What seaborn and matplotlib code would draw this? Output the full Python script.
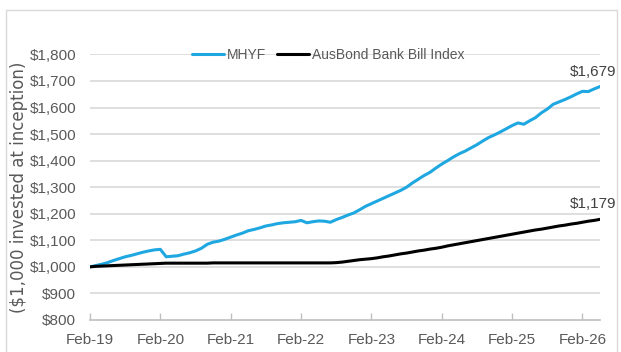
import matplotlib
matplotlib.use("Agg")
import matplotlib.pyplot as plt
import seaborn as sns
import pandas as pd
from matplotlib.patches import Rectangle

# ---- data (monthly, Feb-19 .. May-26) ----
mhyf = [1000, 1005, 1010, 1016, 1024, 1031, 1038, 1043, 1049, 1055, 1060, 1064,
        1066, 1038, 1040, 1042, 1048, 1053, 1060, 1070, 1085, 1093, 1097, 1104,
        1112, 1120, 1127, 1136, 1141, 1147, 1154, 1158, 1163, 1166, 1168, 1170,
        1175, 1166, 1170, 1173, 1172, 1168, 1178, 1186, 1195, 1203, 1215, 1228,
        1238, 1248, 1258, 1268, 1278, 1288, 1300, 1316, 1330, 1344, 1356, 1372,
        1387, 1400, 1414, 1426, 1436, 1448, 1460, 1474, 1487, 1497, 1508, 1520,
        1532, 1542, 1537, 1550, 1562, 1580, 1594, 1612, 1621, 1630, 1640, 1651,
        1661, 1660, 1670, 1679]
ausbond = [1000, 1002, 1003, 1004, 1005, 1006, 1007, 1008, 1009, 1010, 1011, 1012,
           1013, 1014, 1014, 1014, 1014, 1014, 1014, 1014, 1014, 1015, 1015, 1015,
           1015, 1015, 1015, 1015, 1015, 1015, 1015, 1015, 1015, 1015, 1015, 1015,
           1015, 1015, 1015, 1015, 1015, 1015, 1016, 1018, 1021, 1024, 1027, 1029,
           1031, 1034, 1038, 1041, 1045, 1049, 1052, 1056, 1060, 1063, 1067, 1070,
           1074, 1079, 1083, 1087, 1091, 1095, 1099, 1103, 1107, 1111, 1115, 1119,
           1123, 1127, 1131, 1135, 1139, 1142, 1146, 1150, 1154, 1157, 1161, 1164,
           1168, 1172, 1175, 1179]
series_names = ["MHYF", "AusBond Bank Bill Index"]
tick_labels = ["Feb-19", "Feb-20", "Feb-21", "Feb-22", "Feb-23", "Feb-24", "Feb-25", "Feb-26"]
y_ticks = [800, 900, 1000, 1100, 1200, 1300, 1400, 1500, 1600, 1700, 1800]
end_labels = ["$1,679", "$1,179"]

months = list(range(len(mhyf)))
df = pd.concat([
    pd.DataFrame({"month": months, "value": mhyf, "series": series_names[0]}),
    pd.DataFrame({"month": months, "value": ausbond, "series": series_names[1]}),
])

sns.set_theme(style="white")
plt.rcParams['font.family'] = ['Liberation Sans', 'DejaVu Sans']

W, H = 621, 352
fig = plt.figure(figsize=(W / 100, H / 100), dpi=100)
fig.patch.set_facecolor("white")
fig.patches.append(Rectangle((6 / W, -0.05), 611 / W, 1 - 10 / H + 0.05,
                             transform=fig.transFigure, fill=False,
                             edgecolor="#d9d9d9", linewidth=1.0))

ax = fig.add_axes([90 / W, 32 / H, 510 / W, (320 - 54.4) / H])

palette = {series_names[0]: "#1fa7e1", series_names[1]: "#000000"}
sns.lineplot(data=df, x="month", y="value", hue="series", palette=palette,
             linewidth=2.2, ax=ax, legend=True)

ax.set_xlim(0, len(mhyf) - 1)
ax.set_ylim(800, 1800)
ax.set_yticks(y_ticks)
ax.set_yticklabels([f"${v:,}" for v in y_ticks])
ax.set_xticks(list(range(0, 12 * len(tick_labels), 12)))
ax.set_xticklabels(tick_labels)
ax.set_xlabel("")
ax.set_ylabel("($1,000 invested at inception)", fontsize=12, color="#595959",
              family=["DejaVu Sans"])
ax.yaxis.set_label_coords(-(90 - 28) / 510, 0.5)

for y in y_ticks[1:]:
    ax.axhline(y, color="#d9d9d9", linewidth=1.2, zorder=0)
for s in ["top", "right", "left"]:
    ax.spines[s].set_visible(False)
ax.spines["bottom"].set_color("#bfbfbf")
ax.spines["bottom"].set_linewidth(1.2)
ax.tick_params(axis="x", direction="in", length=5, width=1, color="#bfbfbf",
               labelsize=11, labelcolor="#595959", pad=9, bottom=True)
ax.tick_params(axis="y", length=0, labelsize=11, labelcolor="#595959", pad=10)

# end labels
ax.annotate(end_labels[0], (len(mhyf) - 1, mhyf[-1]), textcoords="offset pixels",
            xytext=(-7, 8), ha="center", va="bottom", fontsize=11, color="#404040")
ax.annotate(end_labels[1], (len(ausbond) - 1, ausbond[-1]), textcoords="offset pixels",
            xytext=(-7, 8), ha="center", va="bottom", fontsize=11, color="#404040")

handles, labels = ax.get_legend_handles_labels()
ax.get_legend().remove()
leg = fig.legend(handles, labels, loc="center", bbox_to_anchor=(328 / W, 1 - 55 / H),
                 ncol=2, frameon=False, fontsize=10, handlelength=2.3,
                 handletextpad=0.2, columnspacing=0.8)
for t in leg.get_texts():
    t.set_color("#595959")

fig.savefig("out.png", dpi=100)
